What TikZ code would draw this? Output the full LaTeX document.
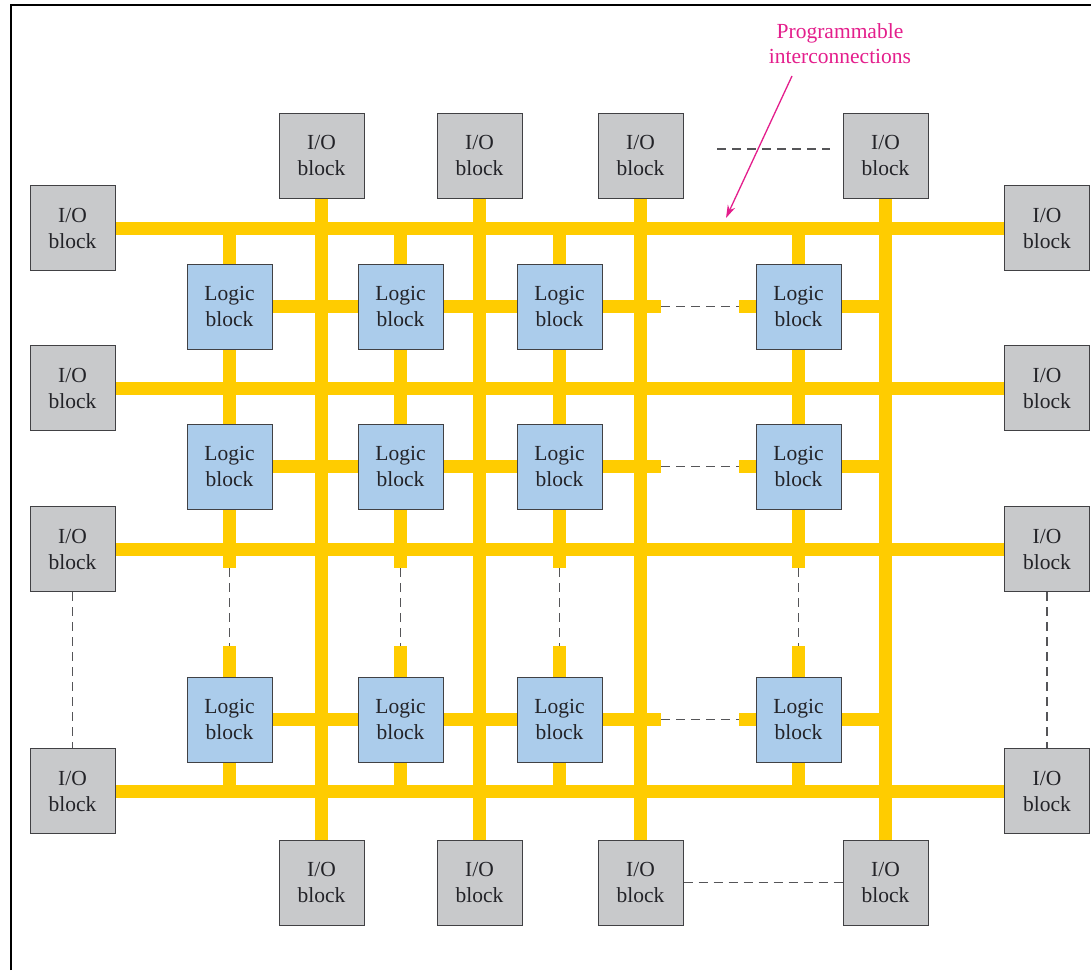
\documentclass[tikz,border=0pt]{standalone}
\usepackage{fontspec}
\setmainfont{Liberation Serif}
\usetikzlibrary{arrows.meta}
\pgfdeclarelayer{bottom}
\pgfdeclarelayer{buses}
\pgfsetlayers{bottom,buses,main}
\definecolor{busyellow}{RGB}{255,204,0}
\definecolor{iogray}{RGB}{200,201,203}
\definecolor{logicblue}{RGB}{171,204,235}
\definecolor{edgegray}{RGB}{65,65,68}
\definecolor{magentalabel}{RGB}{228,30,140}
\definecolor{dashgray}{RGB}{85,85,88}
\definecolor{textdark}{RGB}{35,35,40}
\begin{document}
\begin{tikzpicture}[x=1pt,y=-1pt,
  iobox/.style={draw=edgegray, line width=1pt, fill=iogray, minimum width=85pt, minimum height=85pt,
    inner sep=0pt, align=center, font=\fontsize{21.5}{26}\selectfont, text=textdark},
  logicbox/.style={iobox, fill=logicblue},
  busline/.style={draw=busyellow, line width=13pt},
  dashline/.style={draw=dashgray, line width=1.3pt, dash pattern=on 9pt off 6pt},
  framestyle/.style={draw=black, line width=2.2pt}]

\useasboundingbox (0,0) rectangle (1091,970);
\begin{pgfonlayer}{bottom}
  \fill[white] (0,0) rectangle (1091,970);
\end{pgfonlayer}

% frame
\coordinate (fr1) at (11,970);
\coordinate (fr2) at (11,5);
\coordinate (fr3) at (1091,5);
\draw[framestyle] (fr1) -- (fr2) -- (fr3);

% left / right I/O blocks
\foreach \yy [count=\i] in {228,388,549,791} {
  \node[iobox] (L\i) at (72.5,\yy) {I/O\\block};
  \node[iobox] (R\i) at (1047,\yy) {I/O\\block};
}
% top / bottom I/O blocks
\foreach \xx [count=\j] in {321.5,479.5,640.5,885.5} {
  \node[iobox] (T\j) at (\xx,155.5) {I/O\\block};
  \node[iobox] (B\j) at (\xx,882.5) {I/O\\block};
}
% logic blocks
\foreach \yy [count=\r] in {306.5,466.5,719.5} {
  \foreach \xx [count=\c] in {229.5,400.5,559.5,798.5} {
    \node[logicbox] (G\r\c) at (\xx,\yy) {Logic\\block};
  }
  \coordinate (ha\r) at (661,\yy);
  \coordinate (hb\r) at (739,\yy);
}
\foreach \xx [count=\c] in {229.5,400.5,559.5,798.5} {
  \coordinate (du\c) at (\xx,568);
  \coordinate (dl\c) at (\xx,646);
}

% interconnect buses
\begin{pgfonlayer}{buses}
  \foreach \i in {1,2,3,4} {
    \draw[busline] (L\i.east) -- (R\i.west);
    \draw[busline] (T\i.south) -- (B\i.north);
  }
  \foreach \c in {1,2,3,4} {
    \draw[busline] (G1\c.north) -- (G1\c.north |- L1.center);
    \draw[busline] (G1\c.south) -- (G1\c.south |- L2.center);
    \draw[busline] (G2\c.north) -- (G2\c.north |- L2.center);
    \draw[busline] (G2\c.south) -- (G2\c.south |- L3.center);
    \draw[busline] (G2\c.south |- L3.center) -- (du\c);
    \draw[busline] (dl\c) -- (G3\c.north);
    \draw[busline] (G3\c.south) -- (G3\c.south |- L4.center);
  }
  \foreach \r in {1,2,3} {
    \draw[busline] (G\r1.east) -- (G\r2.west);
    \draw[busline] (G\r2.east) -- (G\r3.west);
    \draw[busline] (G\r3.east) -- (ha\r);
    \draw[busline] (hb\r) -- (G\r4.west);
    \draw[busline] (G\r4.east) -- (G\r4.east -| T4.center);
  }
\end{pgfonlayer}

% dashed continuation lines
\foreach \r in {1,2,3} { \draw[dashline] (ha\r) -- (hb\r); }
\foreach \c in {1,2,3,4} { \draw[dashline] (du\c) -- (dl\c); }
\draw[dashline] (L3.south) -- (L4.north);
\draw[dashline] (R3.south) -- (R4.north);
\draw[dashline] (B3.east) -- (B4.west);
\coordinate (td1) at (717,149);
\coordinate (td2) at (830,149);
\draw[dashline] (td1) -- (td2);

% label and arrow
\node[align=center, text=magentalabel, font=\fontsize{21.5}{25}\selectfont] (lbl) at (840,44) {Programmable\\interconnections};
\coordinate (arrs) at (792,76);
\coordinate (arrt) at (726,218);
\draw[magentalabel, line width=1.3pt, -{Stealth[length=13pt,width=8pt]}] (arrs) -- (arrt);
\end{tikzpicture}
\end{document}
